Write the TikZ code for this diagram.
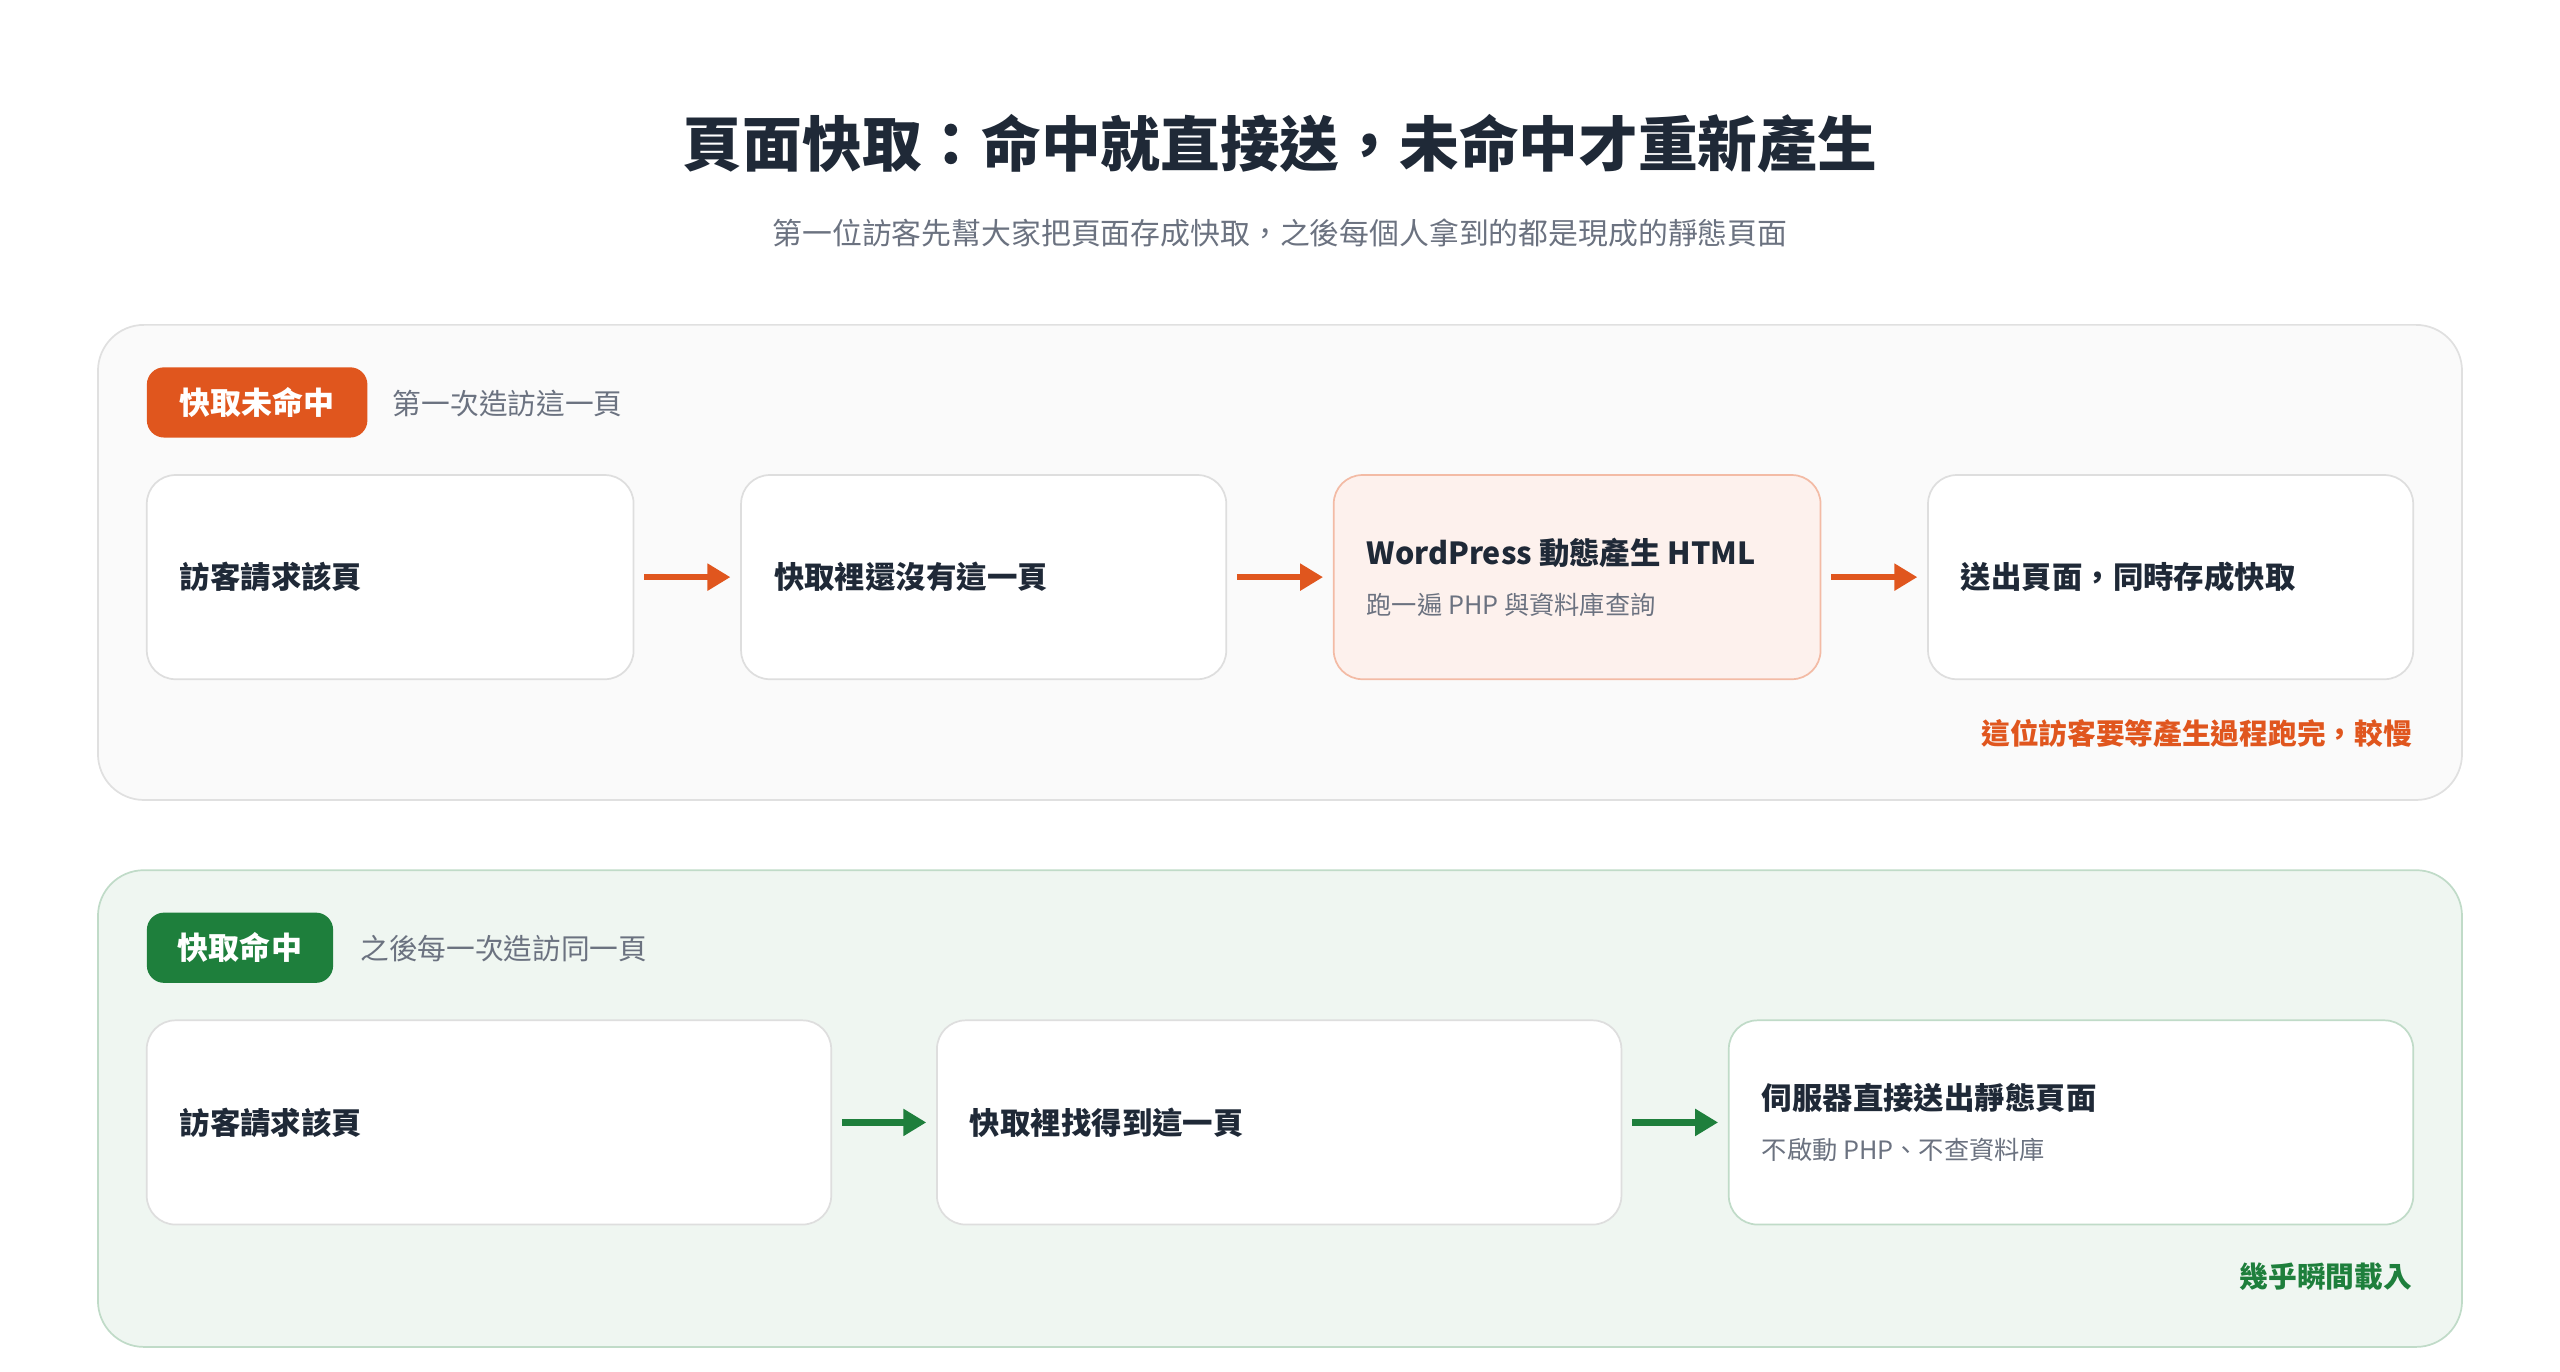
\documentclass[tikz,border=0pt]{standalone}
\usepackage{fontspec}
\setmainfont{Noto Sans CJK TC}
\usetikzlibrary{arrows.meta}
\definecolor{ink}{HTML}{1F2937}
\definecolor{mute}{HTML}{6B7280}
\definecolor{miss}{HTML}{E0561E}
\definecolor{hit}{HTML}{1E7F3C}
\begin{document}
\begin{tikzpicture}[x=0.01cm,y=-0.01cm,
    panel/.style={rounded corners=8pt,line width=0.3pt},
    card/.style={draw=black!13,fill=white,rounded corners=5pt,line width=0.3pt,minimum height=1.25cm,inner sep=0pt},
    tag/.style={rounded corners=3pt,inner sep=0pt,minimum height=0.43cm,text=white,font=\bfseries\fontsize{5.4}{6}\selectfont},
    lbl/.style={anchor=west,text=ink,font=\bfseries\fontsize{5.3}{6}\selectfont,inner sep=0pt},
    sub/.style={anchor=west,text=mute,font=\fontsize{4.4}{5}\selectfont,inner sep=0pt},
    flow/.style={-{Triangle[length=4pt,width=4.5pt]},line width=1.1pt}]
    \useasboundingbox (0,0) rectangle (1568,840);
    % title
    \node (title) at (784,88) [text=ink,font=\bfseries\fontsize{10.4}{12}\selectfont] {頁面快取：命中就直接送，未命中才重新產生};
    \node (subtitle) at (784,143) [text=mute,font=\fontsize{5.2}{6}\selectfont] {第一位訪客先幫大家把頁面存成快取，之後每個人拿到的都是現成的靜態頁面};
    % cache miss
    \draw [panel,fill=black!2,draw=black!12] (60,199) rectangle (1508,490);
    \node (misstag) [tag,fill=miss,minimum width=1.35cm] at (157.5,246.5) {快取未命中};
    \node (missnote) at (240,247) [sub,font=\fontsize{5}{6}\selectfont] {第一次造訪這一頁};
    \node (m1) [card,minimum width=2.98cm] at (239,353.5) {};
    \node (m2) [card,minimum width=2.97cm] at (602.5,353.5) {};
    \node (m3) [card,minimum width=2.98cm,fill=miss!8,draw=miss!40] at (966,353.5) {};
    \node (m4) [card,minimum width=2.97cm] at (1329.5,353.5) {};
    \node at ([xshift=0.2cm]m1.west) [lbl] {訪客請求該頁};
    \node at ([xshift=0.2cm]m2.west) [lbl] {快取裡還沒有這一頁};
    \node at ([xshift=0.2cm,yshift=0.15cm]m3.west) [lbl] {WordPress 動態產生 HTML};
    \node at ([xshift=0.2cm,yshift=-0.17cm]m3.west) [sub] {跑一遍 PHP 與資料庫查詢};
    \node at ([xshift=0.2cm]m4.west) [lbl] {送出頁面，同時存成快取};
    \foreach \a/\b in {m1/m2,m2/m3,m3/m4}
        \draw [flow,miss] ([xshift=0.06cm]\a.east) -- ([xshift=-0.06cm]\b.west);
    \node (misslate) at (1478,449) [anchor=east,inner sep=0pt,text=miss,font=\bfseries\fontsize{5}{6}\selectfont] {這位訪客要等產生過程跑完，較慢};
    % cache hit
    \draw [panel,fill=hit!7,draw=hit!28] (60,533) rectangle (1508,825);
    \node (hittag) [tag,fill=hit,minimum width=1.14cm] at (147,580.5) {快取命中};
    \node (hitnote) at (220,581) [sub,font=\fontsize{5}{6}\selectfont] {之後每一次造訪同一頁};
    \node (h1) [card,minimum width=4.19cm] at (299.5,687.5) {};
    \node (h2) [card,minimum width=4.19cm] at (783.5,687.5) {};
    \node (h3) [card,minimum width=4.19cm,draw=hit!28] at (1268.5,687.5) {};
    \node at ([xshift=0.2cm]h1.west) [lbl] {訪客請求該頁};
    \node at ([xshift=0.2cm]h2.west) [lbl] {快取裡找得到這一頁};
    \node at ([xshift=0.2cm,yshift=0.15cm]h3.west) [lbl] {伺服器直接送出靜態頁面};
    \node at ([xshift=0.2cm,yshift=-0.17cm]h3.west) [sub] {不啟動 PHP、不查資料庫};
    \foreach \a/\b in {h1/h2,h2/h3}
        \draw [flow,hit] ([xshift=0.06cm]\a.east) -- ([xshift=-0.06cm]\b.west);
    \node (hitfast) at (1478,782) [anchor=east,inner sep=0pt,text=hit,font=\bfseries\fontsize{5}{6}\selectfont] {幾乎瞬間載入};
\end{tikzpicture}
\end{document}
